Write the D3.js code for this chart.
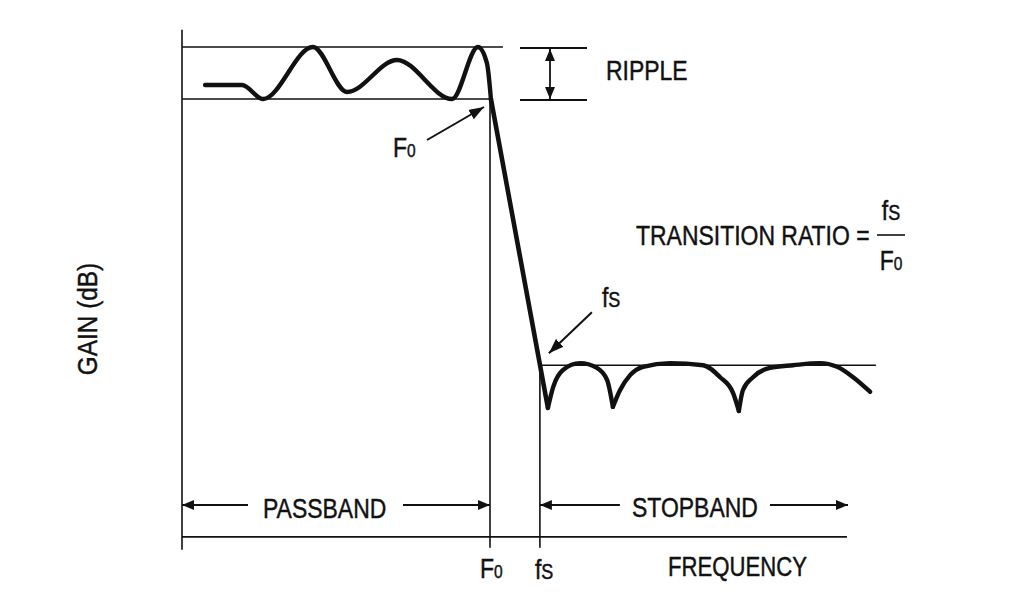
<!DOCTYPE html>
<html><head><meta charset="utf-8">
<script src="https://cdn.jsdelivr.net/npm/d3@7"></script>
<style>
html,body{margin:0;padding:0;background:#fff;}
svg{display:block;}
text{font-family:"Liberation Sans",Arial,Helvetica,sans-serif;fill:#111;stroke:#111;stroke-width:0.45px;}
</style></head>
<body>
<svg id="c" width="1009" height="596"></svg>
<script>
// ---- data (normalized frequency f/F0, gain in dB with 1 dB ripple) ----
const passbandF = [0.075, 0.195, 0.263, 0.425, 0.536, 0.698, 0.877, 0.961, 0.990, 1.003];
const passbandG = [-0.73, -0.73, -1.00, 0.00, -0.865, -0.25, -1.00, 0.00, -0.31, -1.00];
const transitionF = [1.003, 1.188];
const transitionG = [-1.00, -6.94];
const hump1F = [1.188, 1.205, 1.237, 1.292, 1.347, 1.380, 1.399];
const hump1G = [-6.94, -6.54, -6.21, -6.08, -6.17, -6.40, -6.92];
const hump2F = [1.399, 1.422, 1.455, 1.497, 1.584, 1.692, 1.747, 1.789, 1.808];
const hump2G = [-6.92, -6.60, -6.31, -6.15, -6.08, -6.12, -6.35, -6.65, -7.00];
const hump3F = [1.808, 1.821, 1.854, 1.909, 1.984, 2.071, 2.127, 2.179, 2.234];
const hump3G = [-7.00, -6.60, -6.35, -6.17, -6.12, -6.08, -6.15, -6.35, -6.63];
const F0 = 1.0, FS = 1.162;
const rippleTop = 0, rippleBottom = -1, stopLevel = -6.12;
const axisGain = -9.42, axisTopGain = 0.33, axisBottomGain = -9.67, tickBottomGain = -9.63;
const freqAxisEnd = 2.159, stopLineEnd = 2.253, rippleTopEnd = 1.042;
const bandLabels = ["PASSBAND", "STOPBAND"];

const svg = d3.select("#c");
const x = d3.scaleLinear().domain([0, 1]).range([182, 490]);
const y = d3.scaleLinear().domain([0, -1]).range([47, 99]);

const defs = svg.append("defs");
defs.append("marker").attr("id","ah").attr("viewBox","0 0 12 10")
  .attr("markerUnits","userSpaceOnUse").attr("markerWidth",12).attr("markerHeight",10)
  .attr("refX",12).attr("refY",5).attr("orient","auto-start-reverse")
  .append("path").attr("d","M0,0 L12,5 L0,10 Z").attr("fill","#111");
defs.append("marker").attr("id","ahb").attr("viewBox","0 0 15 11")
  .attr("markerUnits","userSpaceOnUse").attr("markerWidth",15).attr("markerHeight",11)
  .attr("refX",15).attr("refY",5.5).attr("orient","auto")
  .append("path").attr("d","M0,0 L15,5.5 L0,11 Z").attr("fill","#111");

const thin = (x1,y1,x2,y2,w) => svg.append("line").attr("x1",x1).attr("y1",y1).attr("x2",x2).attr("y2",y2)
  .attr("stroke","#111").attr("stroke-width",w||1.6);

// condensed text helper: parts = [[string, size], ...]
function label(px, py, parts, anchor, sx, extra) {
  const g = svg.append("g").attr("transform", `translate(${px},${py})${extra||""} scale(${sx||0.82},1)`);
  const t = g.append("text").attr("text-anchor", anchor || "start").attr("font-size", parts[0][1]);
  parts.forEach(p => t.append("tspan").attr("font-size", p[1]).text(p[0]));
  return t;
}

// frame lines
thin(x(0), y(axisTopGain), x(0), y(axisBottomGain));
thin(x(0), y(axisGain), x(freqAxisEnd), y(axisGain));
thin(x(F0), y(rippleBottom), x(F0), y(tickBottomGain));
thin(x(FS), y(stopLevel), x(FS), y(tickBottomGain));
thin(x(0), y(rippleTop), x(rippleTopEnd), y(rippleTop));
thin(x(0), y(rippleBottom), x(F0), y(rippleBottom));
thin(x(FS), y(stopLevel), x(stopLineEnd), y(stopLevel));

// ripple annotation
const rx0 = x(F0) + 30, rx1 = x(F0) + 97, rax = x(F0) + 60;
thin(rx0, y(rippleTop)+1, rx1, y(rippleTop)+1, 1.8);
thin(rx0, y(rippleBottom)+1, rx1, y(rippleBottom)+1, 1.8);
thin(rax, y(rippleTop)+2, rax, y(rippleBottom), 1.8).attr("marker-start","url(#ah)").attr("marker-end","url(#ah)");
label(rx1+19, y(rippleBottom)-19, [["RIPPLE",28]]);

// curves
const smooth = d3.line().x(d=>x(d[0])).y(d=>y(d[1])).curve(d3.curveMonotoneX);
const straight = d3.line().x(d=>x(d[0])).y(d=>y(d[1]));
const series = [
  d3.zip(passbandF, passbandG),
  d3.zip(hump1F, hump1G),
  d3.zip(hump2F, hump2G),
  d3.zip(hump3F, hump3G)
];
svg.selectAll("path.curve").data(series).join("path").attr("class","curve")
  .attr("d", smooth).attr("fill","none").attr("stroke","#111")
  .attr("stroke-width",4.4).attr("stroke-linejoin","round").attr("stroke-linecap","round");
svg.append("path").datum(d3.zip(transitionF, transitionG)).attr("d", straight)
  .attr("fill","none").attr("stroke","#111").attr("stroke-width",4.6).attr("stroke-linecap","round");

// F0 pointer
const f0x = x(F0), f0y = y(rippleBottom);
thin(f0x-63, f0y+41, f0x-6, f0y+8, 2).attr("marker-end","url(#ahb)");
label(f0x-97, f0y+58, [["F",28],["0",19]]);

// fs pointer
const fsx = x(FS), fsy = y(stopLevel);
thin(fsx+52, fsy-53, fsx+9, fsy-12, 2).attr("marker-end","url(#ahb)");
label(fsx+62, fsy-58, [["f",28],["S",22]]);

// transition ratio
label(636, 245, [["TRANSITION RATIO =",28]]);
label(891, 220, [["f",28],["S",22]], "middle");
thin(877, 235, 905, 235, 1.6);
label(891, 270, [["F",28],["0",19]], "middle");

// band arrows
const by = 505;
thin(x(0)+66, by, x(0), by, 2).attr("marker-end","url(#ah)");
thin(x(F0)-87, by, x(F0), by, 2).attr("marker-end","url(#ah)");
label(263, by+13, [[bandLabels[0],28]]);
thin(x(FS)+80, by, x(FS), by, 2).attr("marker-end","url(#ah)");
thin(770, by, 848, by, 2).attr("marker-end","url(#ah)");
label(632, by+12, [[bandLabels[1],28]]);

// axis labels
label(x(F0)-10, 578, [["F",28],["0",19]]);
label(x(FS)-5, 579, [["f",28],["S",22]]);
label(668, 576, [["FREQUENCY",27]]);
label(97, 319, [["GAIN (dB)",28]], "middle", 0.87, " rotate(-90)");
</script>
</body></html>
